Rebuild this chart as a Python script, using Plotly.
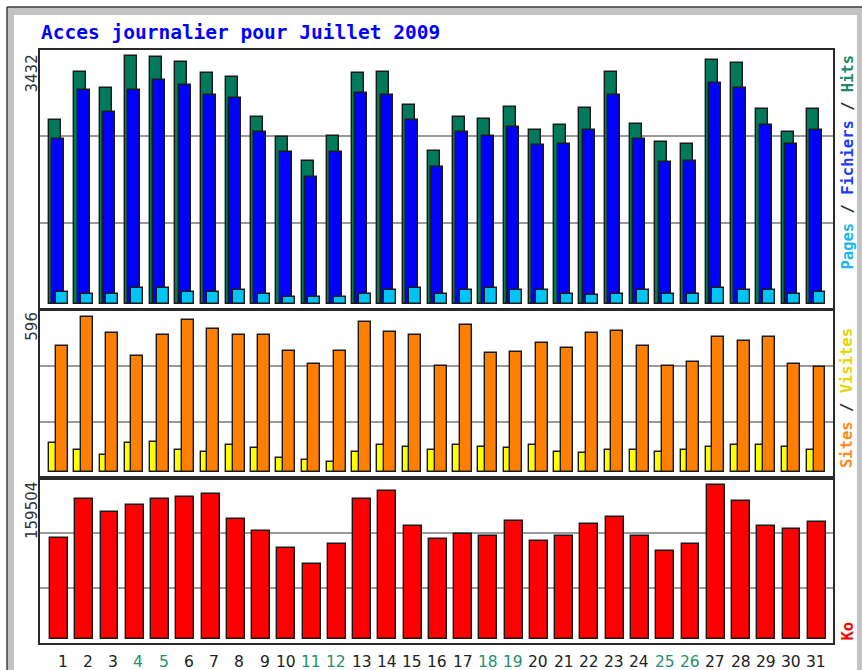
import plotly.graph_objects as go

# ---------------- data ----------------
days = list(range(1, 32))
day_labels = [str(d) for d in days]
weekend_days = [4, 5, 11, 12, 18, 19, 25, 26]

hits = [2546, 3215, 2985, 3432, 3420, 3354, 3193, 3146, 2592, 2307,
        1983, 2329, 3193, 3215, 2754, 2122, 2592, 2565, 2731, 2404,
        2473, 2709, 3215, 2491, 2238, 2214, 3377, 3331, 2703, 2376, 2703]
files = [2288, 2962, 2662, 2962, 3100, 3031, 2893, 2847, 2380, 2099,
         1753, 2099, 2916, 2893, 2547, 1892, 2380, 2329, 2445, 2196,
         2214, 2408, 2893, 2288, 1961, 1983, 3054, 2985, 2473, 2214, 2404]
pages = [170, 138, 138, 217, 217, 170, 170, 194, 138, 101,
         101, 101, 138, 194, 217, 138, 194, 217, 194, 194,
         138, 120, 138, 194, 138, 138, 217, 194, 194, 138, 170]
visits = [110, 84, 65, 110, 116, 84, 78, 103, 91, 53,
          46, 39, 78, 103, 97, 84, 103, 97, 91, 103,
          78, 72, 84, 84, 78, 84, 97, 103, 103, 97, 84]
sites = [484, 596, 532, 446, 525, 583, 548, 525, 525, 465,
         414, 465, 576, 538, 525, 407, 563, 455, 461, 493,
         474, 532, 542, 484, 407, 420, 516, 503, 516, 414, 401]
kbytes = [104917, 145000, 131222, 138784, 145000, 146759, 150177, 124284, 111856, 94559,
          77367, 98081, 145000, 153594, 117034, 103259, 108438, 106677, 122524, 101499,
          106677, 118795, 126045, 106987, 91142, 98081, 159504, 143237, 117345, 113927, 120866]

title_text = "Acces journalier pour Juillet 2009"
max_labels = ["3432", "596", "159504"]

# ---------------- geometry helpers ----------------
W, H = 862, 670
ML, MR, MT, MB = 40, 29, 50, 27
PW, PH = W - ML - MR, H - MT - MB


def px2x(px):
    return (px - ML) / PW


def py2y(py):
    return (H - MB - py) / PH


# panel value ranges (bottom margin under bars, headroom above max)
def rng(maxval, maxpx, below, above):
    s = maxval / maxpx
    return [-below * s, above * s]


r_top = rng(3432, 248, 5, 254)
r_mid = rng(596, 155.5, 6, 162)
r_bot = rng(159504, 154, 4, 161)


def thirds(r):
    span = r[1] - r[0]
    return [r[0] + span / 3, r[0] + 2 * span / 3]


C_HITS = "#007a5a"
C_FILES = "#0000ff"
C_PAGES = "#00c4f4"
C_SITES = "#ff8000"
C_VISITS = "#ffff00"
C_KB = "#ff0000"
OUT = dict(color="#1a1a1a", width=1.4)

fig = go.Figure()
fig.add_trace(go.Bar(x=days, y=hits, offset=-0.376, width=0.475,
                     marker=dict(color=C_HITS, line=OUT), xaxis="x", yaxis="y", name="Hits"))
fig.add_trace(go.Bar(x=days, y=files, offset=-0.245, width=0.475,
                     marker=dict(color=C_FILES, line=OUT), xaxis="x", yaxis="y", name="Fichiers"))
fig.add_trace(go.Bar(x=days, y=pages, offset=-0.111, width=0.475,
                     marker=dict(color=C_PAGES, line=OUT), xaxis="x", yaxis="y", name="Pages"))
fig.add_trace(go.Bar(x=days, y=visits, offset=-0.376, width=0.475,
                     marker=dict(color=C_VISITS, line=OUT), xaxis="x2", yaxis="y2", name="Visites"))
fig.add_trace(go.Bar(x=days, y=sites, offset=-0.111, width=0.475,
                     marker=dict(color=C_SITES, line=OUT), xaxis="x2", yaxis="y2", name="Sites"))
fig.add_trace(go.Bar(x=days, y=kbytes, offset=-0.336, width=0.71,
                     marker=dict(color=C_KB, line=OUT), xaxis="x3", yaxis="y3", name="Ko"))

PX_PER_DAY = 25.26
x0 = 1 - 18.5 / PX_PER_DAY
xr = [x0, x0 + PW / PX_PER_DAY]

dom_top = [py2y(309), 1]
dom_mid = [py2y(478), py2y(310)]
dom_bot = [0, py2y(478)]

axline = dict(showline=True, linecolor="#2a2a2a", linewidth=2, mirror=True)
xcommon = dict(range=xr, showticklabels=False, ticks="", showgrid=False, zeroline=False, **axline)
ycommon = dict(showticklabels=False, ticks="", showgrid=True, gridcolor="#9a9a9a",
               gridwidth=1.5, zeroline=False, **axline)

fig.update_layout(
    width=W, height=H,
    margin=dict(l=ML, r=MR, t=MT, b=MB, pad=0),
    paper_bgcolor="#ffffff", plot_bgcolor="#ffffff",
    showlegend=False, barmode="overlay", bargap=0,
    xaxis=dict(anchor="y", domain=[0, 1], **xcommon),
    xaxis2=dict(anchor="y2", domain=[0, 1], **xcommon),
    xaxis3=dict(anchor="y3", domain=[0, 1], **xcommon),
    yaxis=dict(anchor="x", domain=dom_top, range=r_top, tickvals=thirds(r_top), **ycommon),
    yaxis2=dict(anchor="x2", domain=dom_mid, range=r_mid, tickvals=thirds(r_mid), **ycommon),
    yaxis3=dict(anchor="x3", domain=dom_bot, range=r_bot, tickvals=thirds(r_bot), **ycommon),
)

# outer window frame (gray bands)
GRAY = "#c3c3c3"
shapes = [
    dict(type="rect", xref="paper", yref="paper", x0=px2x(7), x1=px2x(14), y0=py2y(672), y1=py2y(7),
         fillcolor=GRAY, line=dict(width=0), layer="below"),
    dict(type="rect", xref="paper", yref="paper", x0=px2x(7), x1=px2x(863), y0=py2y(15), y1=py2y(7),
         fillcolor=GRAY, line=dict(width=0), layer="below"),
    dict(type="rect", xref="paper", yref="paper", x0=px2x(857), x1=px2x(863), y0=py2y(672), y1=py2y(7),
         fillcolor=GRAY, line=dict(width=0), layer="below"),
    dict(type="line", xref="paper", yref="paper", x0=px2x(7), x1=px2x(863), y0=py2y(7), y1=py2y(7),
         line=dict(color="#3c3c3c", width=1.5)),
    dict(type="line", xref="paper", yref="paper", x0=px2x(7), x1=px2x(7), y0=py2y(672), y1=py2y(7),
         line=dict(color="#3c3c3c", width=1.5)),
]
fig.update_layout(shapes=shapes)

ann = []
# title
ann.append(dict(text="<b>" + title_text + "</b>", xref="paper", yref="paper",
                x=px2x(39), y=py2y(32), xanchor="left", yanchor="middle", showarrow=False,
                font=dict(family="DejaVu Sans Mono", size=19.5, color="#0000ff")))

# max labels (rotated)
for lab, cy in zip(max_labels, [73.5, 326.7, 511]):
    ann.append(dict(text=lab, xref="paper", yref="paper", x=px2x(32), y=py2y(cy),
                    xanchor="center", yanchor="middle", textangle=-90, showarrow=False,
                    font=dict(family="DejaVu Sans", size=15, color="#333333")))

# right side series labels
SL = "<span style='color:#333333'> / </span>"
right_labels = [
    ("<span style='color:#1ab8f0'>Pages</span>" + SL + "<span style='color:#1a3cff'>Fichiers</span>"
     + SL + "<span style='color:#208a68'>Hits</span>", 162.5),
    ("<span style='color:#ff8c1a'>Sites</span>" + SL + "<span style='color:#e6d600'>Visites</span>", 398),
    ("<span style='color:#ff0000'>Ko</span>", 631.5),
]
for txt, cy in right_labels:
    ann.append(dict(text="<b>" + txt + "</b>", xref="paper", yref="paper", x=px2x(847), y=py2y(cy),
                    xanchor="center", yanchor="middle", textangle=-90, showarrow=False,
                    font=dict(family="DejaVu Sans Mono", size=15.5)))

# day labels
for d, lab in zip(days, day_labels):
    col = "#23906e" if d in weekend_days else "#222222"
    ann.append(dict(text=lab, xref="x3", yref="paper", x=d, y=py2y(661.5),
                    xanchor="center", yanchor="middle", showarrow=False, borderpad=0,
                    xshift=4 if len(lab) == 1 else 0,
                    font=dict(family="DejaVu Sans", size=15.5, color=col)))

fig.update_layout(annotations=ann)
fig.write_html("out.html", config={"displayModeBar": False},
               post_script="document.body.style.margin='0';document.body.style.overflow='hidden';")
